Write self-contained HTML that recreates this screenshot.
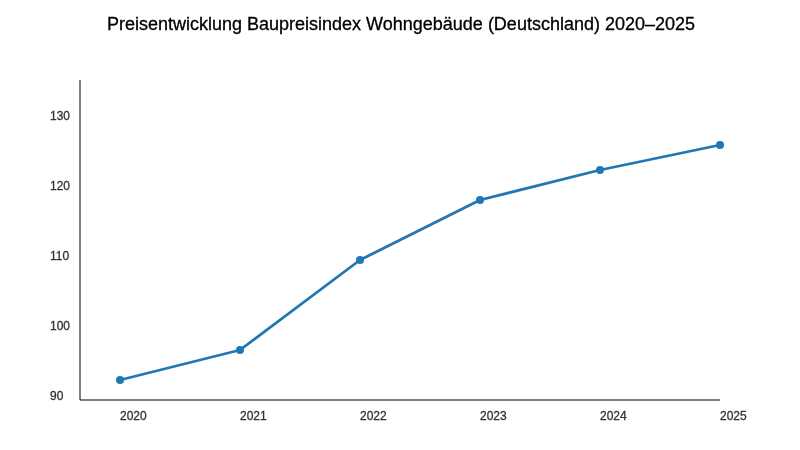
<!DOCTYPE html>
<html><head><meta charset="utf-8">
<style>
html,body{margin:0;padding:0;background:#fff;width:800px;height:450px;overflow:hidden}
svg{display:block;will-change:transform}
text{font-family:"Liberation Sans",sans-serif}
</style></head>
<body>
<svg width="800" height="450" viewBox="0 0 800 450">
<rect width="800" height="450" fill="#fff"/>
<text x="401" y="30" text-anchor="middle" font-size="18" fill="#000" stroke="#000" stroke-width="0.3">Preisentwicklung Baupreisindex Wohngebäude (Deutschland) 2020–2025</text>
<g fill="#333" stroke="#333" stroke-width="0.3" font-size="12">
<text x="50" y="120">130</text>
<text x="50" y="190">120</text>
<text x="50" y="260">110</text>
<text x="50" y="330">100</text>
<text x="50" y="400">90</text>
<text x="120" y="420">2020</text>
<text x="240" y="420">2021</text>
<text x="360" y="420">2022</text>
<text x="480" y="420">2023</text>
<text x="600" y="420">2024</text>
<text x="720" y="420">2025</text>
</g>
<line x1="80" y1="80" x2="80" y2="400" stroke="#000" stroke-opacity="0.5" stroke-width="2"/>
<line x1="80" y1="400" x2="720" y2="400" stroke="#000" stroke-opacity="0.5" stroke-width="2"/>
<polyline points="120,380 240,350 360,260 480,200 600,170 720,145" fill="none" stroke="#1f77b4" stroke-width="2.8" stroke-linejoin="round"/>
<g fill="#1f77b4">
<circle cx="120" cy="380" r="4"/>
<circle cx="240" cy="350" r="4"/>
<circle cx="360" cy="260" r="4"/>
<circle cx="480" cy="200" r="4"/>
<circle cx="600" cy="170" r="4"/>
<circle cx="720" cy="145" r="4"/>
</g>
</svg>
</body></html>
